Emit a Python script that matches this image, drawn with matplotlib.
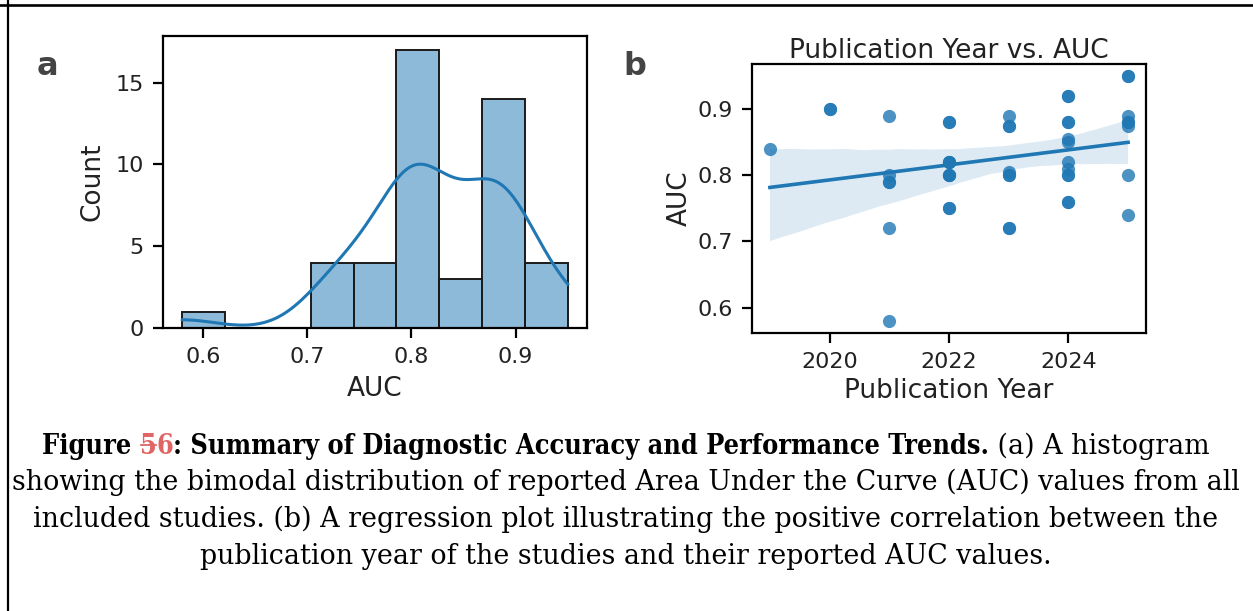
import matplotlib
matplotlib.use("Agg")
import matplotlib.pyplot as plt
from matplotlib.lines import Line2D
import seaborn as sns

# Studies: publication year and reported AUC
years = [2019,
         2020, 2020,
         2021, 2021, 2021, 2021, 2021, 2021,
         2022, 2022, 2022, 2022, 2022, 2022, 2022, 2022, 2022, 2022,
         2023, 2023, 2023, 2023, 2023, 2023, 2023, 2023,
         2024, 2024, 2024, 2024, 2024, 2024, 2024, 2024, 2024, 2024, 2024, 2024,
         2025, 2025, 2025, 2025, 2025, 2025, 2025, 2025]
auc = [0.84,
       0.90, 0.90,
       0.89, 0.80, 0.79, 0.79, 0.72, 0.58,
       0.88, 0.88, 0.82, 0.82, 0.82, 0.80, 0.80, 0.80, 0.75, 0.75,
       0.89, 0.875, 0.875, 0.805, 0.80, 0.80, 0.72, 0.72,
       0.92, 0.92, 0.88, 0.88, 0.855, 0.85, 0.82, 0.81, 0.80, 0.80, 0.76, 0.76,
       0.95, 0.95, 0.89, 0.88, 0.88, 0.875, 0.80, 0.74]

hist_xticks = [0.6, 0.7, 0.8, 0.9]
hist_yticks = [0, 5, 10, 15]
reg_xticks = [2020, 2022, 2024]
reg_yticks = [0.6, 0.7, 0.8, 0.9]

caption_bold = "Summary of Diagnostic Accuracy and Performance Trends."
caption_lines = [
    "showing the bimodal distribution of reported Area Under the Curve (AUC) values from all",
    "included studies. (b) A regression plot illustrating the positive correlation between the",
    "publication year of the studies and their reported AUC values.",
]

plt.rcParams.update({
    "axes.linewidth": 1.6,
    "xtick.major.width": 1.6,
    "ytick.major.width": 1.6,
    "xtick.major.size": 7.5,
    "ytick.major.size": 7.5,
    "xtick.major.pad": 6.5,
    "ytick.major.pad": 6.5,
    "xtick.labelsize": 16,
    "ytick.labelsize": 16,
    "axes.labelsize": 19,
    "axes.titlesize": 19,
    "text.color": "#222222",
    "axes.labelcolor": "#222222",
    "xtick.labelcolor": "#222222",
    "ytick.labelcolor": "#222222",
})

W, H = 1253, 611
fig = plt.figure(figsize=(W / 100, H / 100), dpi=100)

# page frame: top rule and left rule
fig.add_artist(Line2D([0, 1], [1 - 4.5 / H, 1 - 4.5 / H], transform=fig.transFigure,
                      color="black", linewidth=1.9))
fig.add_artist(Line2D([8 / W, 8 / W], [0, 1], transform=fig.transFigure,
                      color="black", linewidth=1.6))

# (a) histogram with kde
ax1 = fig.add_axes([163 / W, 1 - 328 / H, (587 - 163) / W, (328 - 36) / H])
sns.histplot(x=auc, bins=9, kde=True, ax=ax1, color="tab:blue", alpha=0.5,
             edgecolor="#1a1a1a", linewidth=1.4, line_kws={"linewidth": 2.2})
ax1.set_xticks(hist_xticks)
ax1.set_yticks(hist_yticks)
ax1.set_xlabel("AUC", labelpad=6)
ax1.set_ylabel("Count", labelpad=7)

# (b) regression of AUC on year
ax2 = fig.add_axes([752 / W, 1 - 333 / H, (1146 - 752) / W, (333 - 64) / H])
sns.regplot(x=years, y=auc, ax=ax2, color="tab:blue", seed=0,
            scatter_kws={"s": 90, "linewidths": 0}, line_kws={"linewidth": 2.6})
ax2.set_xticks(reg_xticks)
ax2.set_yticks(reg_yticks)
ax2.set_xlabel("Publication Year", labelpad=4)
ax2.set_ylabel("AUC", labelpad=3)
ax2.set_title("Publication Year vs. AUC", pad=3)

fig.text(37 / W, 1 - 75 / H, "a", fontsize=23, fontweight="bold", color="#444444",
         va="baseline")
fig.text(623 / W, 1 - 75 / H, "b", fontsize=23, fontweight="bold", color="#444444",
         va="baseline")

# caption
renderer = fig.canvas.get_renderer()
serif = "DejaVu Serif"
probe = fig.text(0, 0, caption_lines[0], family=serif, fontsize=16)
cap_size = 16 * 1228 / probe.get_window_extent(renderer).width
probe.remove()

center_x = 626
baselines = [454, 490.5, 527, 563.5]

pieces = [("Figure ", "bold", "black"), ("5", "bold", "#e06666"), ("6", "bold", "#e06666"),
          (": " + caption_bold, "bold", "black"), (" (a) A histogram", "normal", "black")]
texts = []
for s, weight, col in pieces:
    t = fig.text(0, 1 - baselines[0] / H, s, family=serif, fontsize=cap_size,
                 fontweight=weight, color=col, va="baseline",
                 fontstretch="condensed" if weight == "bold" else "normal")
    texts.append(t)

# keep the first line at its width; shrink the bold run only if needed
bold_w = sum(t.get_window_extent(renderer).width for t in texts[:4])
plain_w = texts[4].get_window_extent(renderer).width
bold_size = min(cap_size, cap_size * (1182 - plain_w) / bold_w)
for t in texts[:4]:
    t.set_fontsize(bold_size)

widths = [t.get_window_extent(renderer).width for t in texts]
x = center_x - sum(widths) / 2
for t, w in zip(texts, widths):
    t.set_x(x / W)
    x += w

# strike through the first digit of the figure number
bb = texts[1].get_window_extent(renderer)
y_strike = baselines[0] - bold_size * 100 / 72 * 0.34
fig.add_artist(Line2D([(bb.x0 + 1) / W, (bb.x1 - 1) / W], [1 - y_strike / H, 1 - y_strike / H],
                      transform=fig.transFigure, color="#e06666", linewidth=1.3))

for line, yb in zip(caption_lines, baselines[1:]):
    fig.text(center_x / W, 1 - yb / H, line, family=serif, fontsize=cap_size,
             color="black", ha="center", va="baseline")

fig.savefig("out.png", dpi=100)
